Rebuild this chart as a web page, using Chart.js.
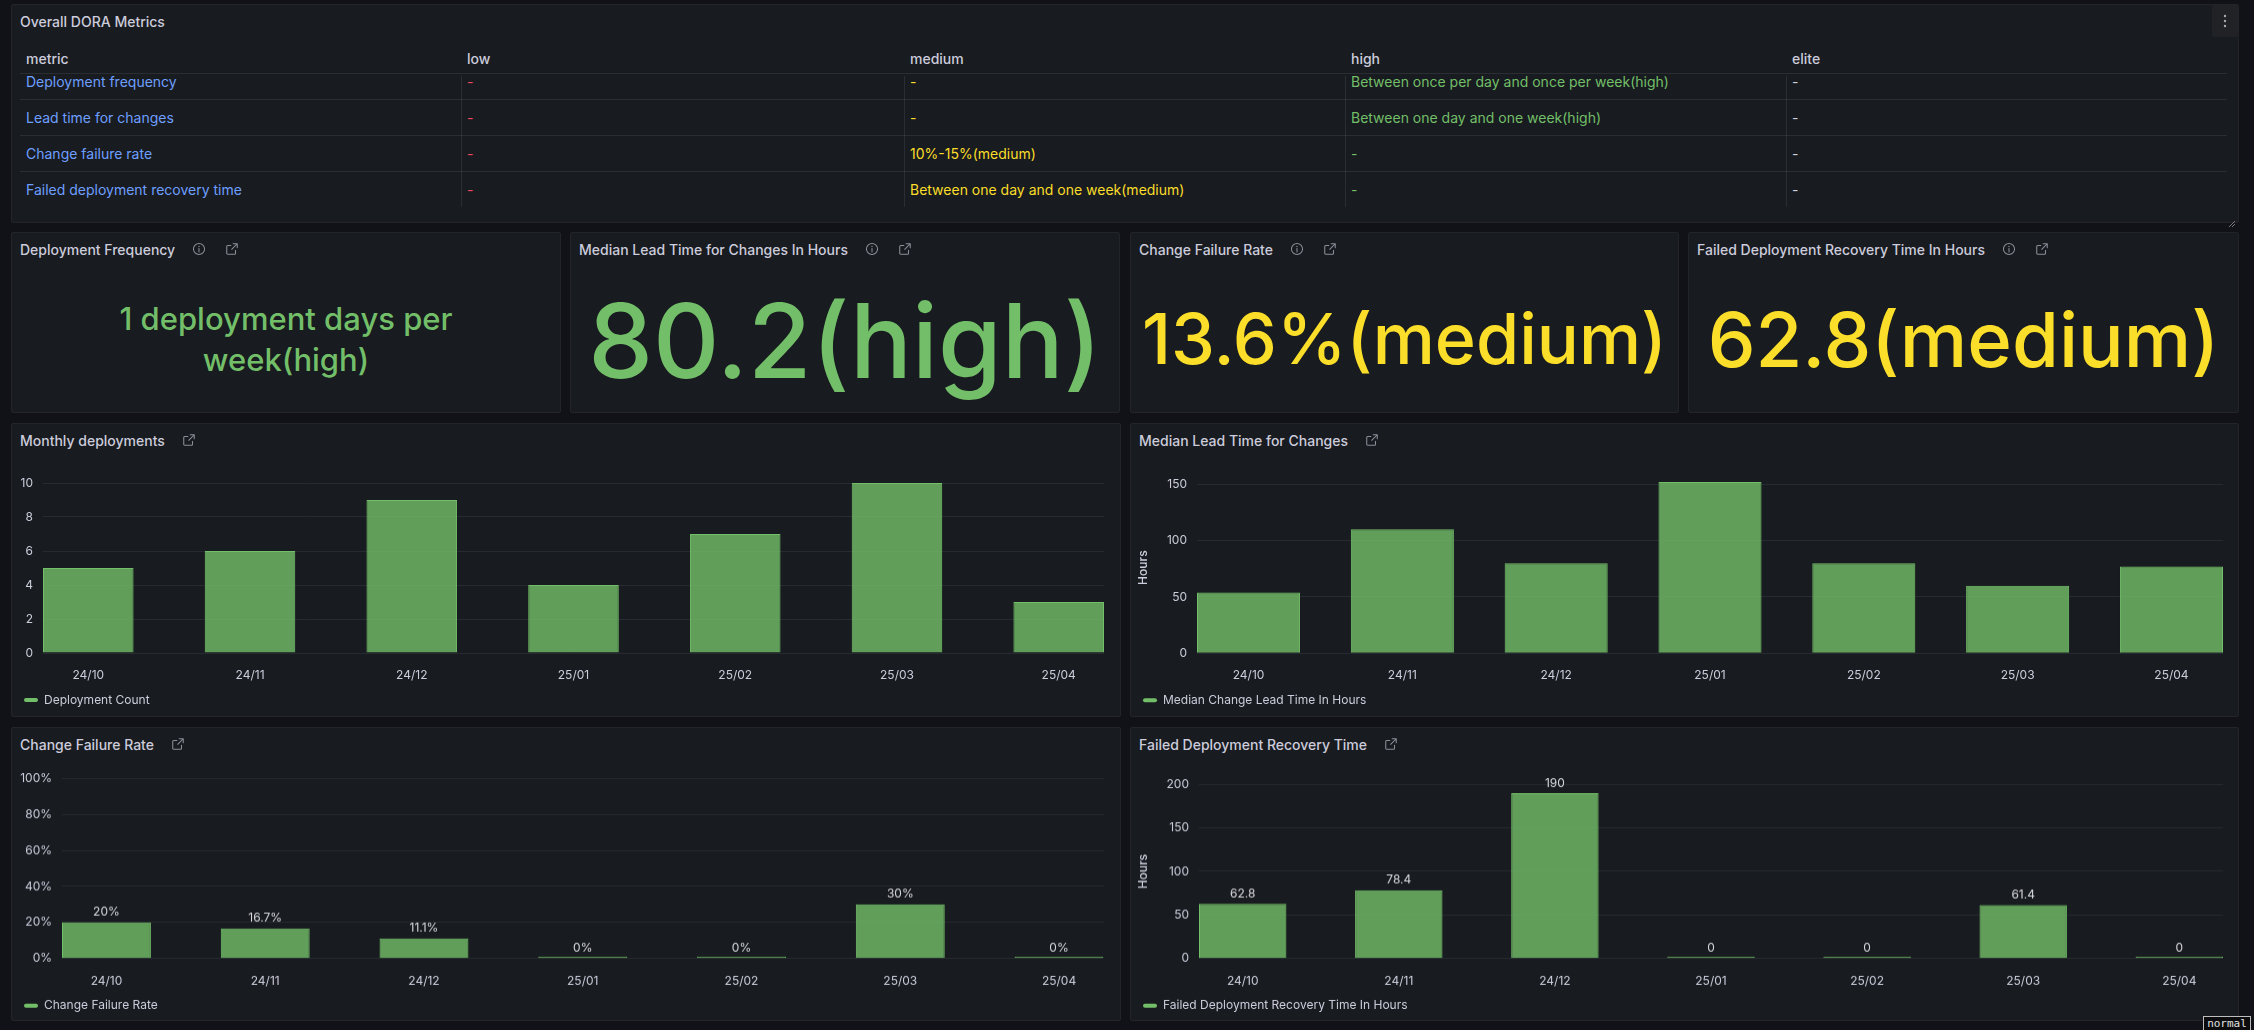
<!DOCTYPE html>
<html>
<head>
<meta charset="utf-8">
<title>Overall DORA Metrics</title>
<script src="https://cdn.jsdelivr.net/npm/chart.js@4.4.1/dist/chart.umd.min.js"></script>
<style>
  html, body { margin:0; padding:0; }
  body { width:2254px; height:1030px; overflow:hidden; background:#111217; font-family:Inter, "Noto Sans", sans-serif; color:#ccccdc; position:relative; }
  .panel { position:absolute; box-sizing:border-box; background:#181b1f; border:1px solid #222429; border-radius:2px; }
  .ptitle { position:absolute; left:8px; top:4px; height:24px; display:flex; align-items:center; font-size:14px; font-weight:500; color:#ccccdc; white-space:nowrap; }
  .ptitle svg { width:14px; height:14px; flex:none; }
  .ptitle .i1 { margin-left:17px; }
  .ptitle .i2 { margin-left:19px; }
  .abs { position:absolute; white-space:nowrap; }
  .stat { position:absolute; text-align:center; font-weight:500; }
  .hline { position:absolute; height:1px; background:rgba(204,204,220,0.10); }
  .vline { position:absolute; width:1px; background:rgba(204,204,220,0.10); }
  .chartwrap { position:absolute; }
  .normal { position:absolute; left:2203px; top:1016px; width:48px; height:18px; box-sizing:border-box; border:1px solid #bdbdbd; background:#0c0c0e; color:#e0e0e0; font-family:"DejaVu Sans Mono", monospace; font-size:11px; line-height:14px; text-align:center; }
</style>
</head>
<body>
<script>
// ================= DATA =================
const months = ['24/10', '24/11', '24/12', '25/01', '25/02', '25/03', '25/04'];
const deploymentCount = [5, 6, 9, 4, 7, 10, 3];
const medianLeadTimeHours = [54, 110, 80, 152, 80, 60, 77];
const changeFailureRatePct = [20, 16.7, 11.1, 0, 0, 30, 0];
const recoveryTimeHours = [62.8, 78.4, 190, 0, 0, 61.4, 0];

const deployYTicks = [0, 2, 4, 6, 8, 10];
const leadYTicks = [0, 50, 100, 150];
const cfrYTicks = [0, 20, 40, 60, 80, 100];
const recoveryYTicks = [0, 50, 100, 150, 200];

const tableColumns = ['metric', 'low', 'medium', 'high', 'elite'];
const tableMetrics = ['Deployment frequency', 'Lead time for changes', 'Change failure rate', 'Failed deployment recovery time'];
const tableLow = ['-', '-', '-', '-'];
const tableMedium = ['-', '-', '10%-15%(medium)', 'Between one day and one week(medium)'];
const tableHigh = ['Between once per day and once per week(high)', 'Between one day and one week(high)', '-', '-'];
const tableElite = ['-', '-', '-', '-'];

const statTitles = ['Deployment Frequency', 'Median Lead Time for Changes In Hours', 'Change Failure Rate', 'Failed Deployment Recovery Time In Hours'];
const statValues = ['1 deployment days per week(high)', '80.2(high)', '13.6%(medium)', '62.8(medium)'];

// ================= STYLE / LAYOUT =================
const GREEN = '#73BF69';
const YELLOW = '#FADE2A';
const GREEN_FILL = 'rgba(115,191,105,0.8)';
const GRID = 'rgba(204,204,220,0.09)';
const ICON_COL = 'rgba(204,204,220,0.65)';

const infoIcon = `<svg class="i1" viewBox="0 0 24 24"><circle cx="12" cy="12" r="9.5" fill="none" stroke="${ICON_COL}" stroke-width="1.8"/><line x1="12" y1="11" x2="12" y2="17" stroke="${ICON_COL}" stroke-width="1.8" stroke-linecap="round"/><circle cx="12" cy="7.6" r="1.2" fill="${ICON_COL}"/></svg>`;
const extIcon = (cls) => `<svg class="${cls}" viewBox="0 0 24 24"><path d="M14 3h7v7M21 3l-9.5 9.5M18 14v5.5a1.5 1.5 0 0 1-1.5 1.5h-12A1.5 1.5 0 0 1 3 19.5v-12A1.5 1.5 0 0 1 4.5 6H10" fill="none" stroke="${ICON_COL}" stroke-width="1.8" stroke-linecap="round" stroke-linejoin="round"/></svg>`;

function addPanel(x, y, w, h, title, iconsHtml) {
  const p = document.createElement('div');
  p.className = 'panel';
  Object.assign(p.style, { left: x + 'px', top: y + 'px', width: w + 'px', height: h + 'px' });
  const t = document.createElement('div');
  t.className = 'ptitle';
  t.innerHTML = `<span>${title}</span>` + (iconsHtml || '');
  p.appendChild(t);
  document.body.appendChild(p);
  return p;
}
function addText(text, x, yCenter, opts) {
  const d = document.createElement('div');
  d.className = 'abs';
  const lh = opts.lh || 20;
  Object.assign(d.style, { left: x + 'px', top: (yCenter - lh / 2) + 'px', lineHeight: lh + 'px', fontSize: (opts.size || 14) + 'px', color: opts.color || '#ccccdc', fontWeight: opts.weight || 400 });
  d.textContent = text;
  (opts.parent || document.body).appendChild(d);
  return d;
}
function addLine(cls, x, y, len) {
  const d = document.createElement('div');
  d.className = cls;
  if (cls === 'hline') Object.assign(d.style, { left: x + 'px', top: y + 'px', width: len + 'px' });
  else Object.assign(d.style, { left: x + 'px', top: y + 'px', height: len + 'px' });
  document.body.appendChild(d);
}

// ---------- Table panel ----------
const tbl = addPanel(11, 4, 2228, 219, 'Overall DORA Metrics', '');
const menu = document.createElement('div');
Object.assign(menu.style, { position: 'absolute', right: '0px', top: '0px', width: '26px', height: '32px', background: '#202226', borderRadius: '2px' });
menu.innerHTML = `<svg width="26" height="32" viewBox="0 0 26 32"><circle cx="13" cy="11" r="1.2" fill="#aaa"/><circle cx="13" cy="16" r="1.2" fill="#aaa"/><circle cx="13" cy="21" r="1.2" fill="#aaa"/></svg>`;
tbl.appendChild(menu);
const handle = document.createElement('div');
Object.assign(handle.style, { position: 'absolute', right: '2px', bottom: '2px', width: '8px', height: '8px' });
handle.innerHTML = `<svg width="8" height="8" viewBox="0 0 8 8"><path d="M7 1L1 7M7 4L4 7" stroke="#777" stroke-width="1"/></svg>`;
tbl.appendChild(handle);

const colX = [20, 461, 904, 1345, 1786];
const tableRight = 2227;
const colColors = ['#6E9FFF', '#F2495C', YELLOW, GREEN, '#ccccdc'];
tableColumns.forEach((c, i) => addText(c, colX[i] + 6, 59, { size: 14, weight: 500 }));
addLine('hline', colX[0], 73, tableRight - colX[0]);
const body = document.createElement('div');
Object.assign(body.style, { position: 'absolute', left: '0px', top: '74px', width: '2254px', height: '134px', overflow: 'hidden' });
document.body.appendChild(body);
const cols = [tableMetrics, tableLow, tableMedium, tableHigh, tableElite];
for (let r = 0; r < tableMetrics.length; r++) {
  const cy = 82 + 36 * r - 74;
  cols.forEach((col, c) => addText(col[r], colX[c] + 6, cy, { size: 14, color: colColors[c], parent: body }));
  if (r < tableMetrics.length - 1) addLine('hline', colX[0], 99 + 36 * r, tableRight - colX[0]);
}
for (let c = 1; c < colX.length; c++) addLine('vline', colX[c], 76, 131);

// ---------- Stat panels ----------
const statPanels = [[11, 232, 550, 181], [570, 232, 550, 181], [1130, 232, 549, 181], [1688, 232, 551, 181]];
const statColors = [GREEN, GREEN, YELLOW, YELLOW];
const statFont = [31, 103, 70, 76];
const statLine = [41, 103, 70, 76];
const statCapCenter = [318.5, 340.5, 339, 339];
const statBoxW = [420, 540, 540, 540];
statPanels.forEach((p, i) => {
  addPanel(p[0], p[1], p[2], p[3], statTitles[i], infoIcon + extIcon('i2'));
  const d = document.createElement('div');
  d.className = 'stat';
  const cx = p[0] + p[2] / 2;
  Object.assign(d.style, { left: (cx - statBoxW[i] / 2) + 'px', width: statBoxW[i] + 'px', top: (statCapCenter[i] - statLine[i] / 2) + 'px', fontSize: statFont[i] + 'px', lineHeight: statLine[i] + 'px', color: statColors[i], whiteSpace: i === 0 ? 'normal' : 'nowrap' });
  d.textContent = statValues[i];
  document.body.appendChild(d);
});

// ---------- Bar charts ----------
Chart.defaults.font.family = 'Inter, "Noto Sans", sans-serif';
Chart.defaults.font.size = 12;
Chart.defaults.color = '#ccccdc';

const valueLabelPlugin = {
  id: 'valueLabels',
  afterDatasetsDraw(chart, args, opts) {
    if (!opts || typeof opts.format !== 'function') return;
    const { ctx } = chart;
    const yScale = chart.scales.y;
    ctx.save();
    ctx.font = '12px Inter, "Noto Sans", sans-serif';
    ctx.fillStyle = '#d8d9de';
    ctx.textAlign = 'center';
    ctx.textBaseline = 'middle';
    chart.data.datasets.forEach((ds, di) => {
      chart.getDatasetMeta(di).data.forEach((bar, i) => {
        const v = ds.data[i];
        ctx.fillText(opts.format(v), bar.x, yScale.getPixelForValue(v) - 10);
      });
    });
    ctx.restore();
  }
};

function barChart(cfg) {
  const [px, py, pw, ph] = cfg.panel;
  const [pl, pr, pt, pb] = cfg.plot;
  addPanel(px, py, pw, ph, cfg.title, extIcon('i1'));
  const left = px + 1, top = py + 34, width = pw - 2;
  const X_H = 30, LEG_P = 11, LEG_H = 12 + LEG_P + 10;
  const height = pb + X_H + LEG_H - top;
  const wrap = document.createElement('div');
  wrap.className = 'chartwrap';
  Object.assign(wrap.style, { left: left + 'px', top: top + 'px', width: width + 'px', height: height + 'px' });
  const canvas = document.createElement('canvas');
  wrap.appendChild(canvas);
  document.body.appendChild(wrap);
  const f = cfg.barFrac, n = cfg.labels.length;
  return new Chart(canvas, {
    type: 'bar',
    data: {
      labels: cfg.labels.map((_, i) => i),
      datasets: [{ label: cfg.series, data: cfg.values, backgroundColor: GREEN_FILL, borderColor: GREEN, borderWidth: 1, categoryPercentage: 1, barPercentage: f, minBarLength: 2 }]
    },
    options: {
      responsive: true, maintainAspectRatio: false, animation: false,
      layout: { padding: { top: pt - top, right: left + width - pr, bottom: 0, left: 1 } },
      scales: {
        x: {
          type: 'linear', offset: false, min: -f / 2, max: n - 1 + f / 2,
          grid: { display: false, drawTicks: false, offset: false }, border: { display: false },
          afterBuildTicks: s => { s.ticks = cfg.labels.map((_, i) => ({ value: i })); },
          ticks: { padding: 15, maxRotation: 0, minRotation: 0, autoSkip: false, color: '#ccccdc', callback: v => cfg.labels[v] },
          afterFit: s => { s.height = X_H; }
        },
        y: {
          type: 'linear', min: 0, max: cfg.yMax,
          grid: { color: GRID, drawTicks: false }, border: { display: false },
          afterBuildTicks: s => { s.ticks = cfg.yTicks.map(v => ({ value: v })); },
          ticks: { padding: 10, color: '#ccccdc', callback: cfg.yFormat || (v => String(v)) },
          title: cfg.yTitle ? { display: true, text: cfg.yTitle, color: '#ccccdc', padding: { top: 4, bottom: 0 }, font: { size: 12, weight: 500 } } : { display: false },
          afterFit: s => { s.width = pl - left - 1; }
        }
      },
      plugins: {
        legend: {
          position: 'bottom', align: 'start',
          labels: {
            boxWidth: 14, boxHeight: 4, padding: LEG_P, color: '#ccccdc', font: { size: 12 }, useBorderRadius: true, borderRadius: 2,
            generateLabels: () => [{ text: cfg.series, fillStyle: GREEN, strokeStyle: GREEN, lineWidth: 0, fontColor: '#ccccdc', datasetIndex: 0, hidden: false, borderRadius: 2 }]
          }
        },
        tooltip: { enabled: false },
        valueLabels: { format: cfg.labelFormat }
      }
    },
    plugins: [valueLabelPlugin]
  });
}

barChart({ title: 'Monthly deployments', panel: [11, 423, 1110, 294], plot: [43, 1104, 483, 653], barFrac: 0.56,
  labels: months, values: deploymentCount, series: 'Deployment Count', yMax: Math.max(...deployYTicks), yTicks: deployYTicks });
barChart({ title: 'Median Lead Time for Changes', panel: [1130, 423, 1109, 294], plot: [1197, 2223, 482, 653.3], barFrac: 0.67,
  labels: months, values: medianLeadTimeHours, series: 'Median Change Lead Time In Hours', yMax: Math.max(...medianLeadTimeHours), yTicks: leadYTicks, yTitle: 'Hours' });
barChart({ title: 'Change Failure Rate', panel: [11, 727, 1110, 294], plot: [62, 1103.5, 775, 957.7], barFrac: 0.56,
  labels: months, values: changeFailureRatePct, series: 'Change Failure Rate', yMax: Math.max(...cfrYTicks), yTicks: cfrYTicks,
  yFormat: v => v + '%', labelFormat: v => v + '%' });
barChart({ title: 'Failed Deployment Recovery Time', panel: [1130, 727, 1109, 294], plot: [1199, 2223, 784.3, 957.7], barFrac: 0.56,
  labels: months, values: recoveryTimeHours, series: 'Failed Deployment Recovery Time In Hours', yMax: Math.max(...recoveryYTicks), yTicks: recoveryYTicks, yTitle: 'Hours',
  labelFormat: v => String(v) });

const nm = document.createElement('div');
nm.className = 'normal';
nm.textContent = 'normal';
document.body.appendChild(nm);
</script>
</body>
</html>
